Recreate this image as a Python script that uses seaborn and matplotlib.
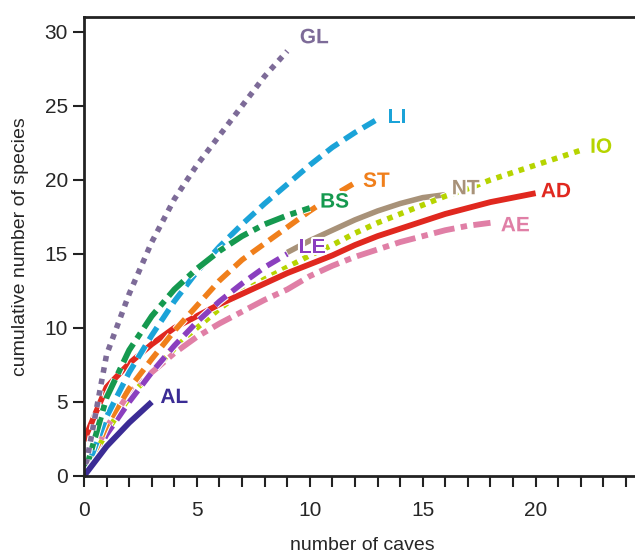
import matplotlib
matplotlib.use('Agg')
import matplotlib.pyplot as plt
import matplotlib.patheffects as pe
import seaborn as sns
import pandas as pd

# rarefaction curves (caves -> species)
gl_caves = [0, 1, 2, 3, 4, 5, 6, 7, 8, 9]
gl_species = [0, 8.2, 12.3, 15.8, 18.7, 21.0, 23.0, 25.0, 27.0, 28.7]

li_caves = [0, 1, 2, 3, 4, 5, 6, 7, 8, 9, 10, 11, 12, 13]
li_species = [0, 4.0, 7.0, 9.5, 11.8, 13.8, 15.5, 17.0, 18.4, 19.7, 21.0, 22.2, 23.2, 24.1]

bs_caves = [0, 1, 2, 3, 4, 5, 6, 7, 8, 9, 10]
bs_species = [0, 5.3, 8.5, 10.8, 12.6, 14.0, 15.2, 16.2, 17.0, 17.6, 18.1]

st_caves = [0, 1, 2, 3, 4, 5, 6, 7, 8, 9, 10, 11, 12]
st_species = [0, 3.4, 5.9, 7.9, 9.8, 11.5, 13.2, 14.6, 15.7, 16.8, 17.9, 18.9, 19.8]

le_caves = [0, 1, 2, 3, 4, 5, 6, 7, 8, 9]
le_species = [0, 2.8, 5.0, 7.0, 8.8, 10.4, 11.8, 13.0, 14.1, 15.0]

nt_caves = [9, 10, 11, 12, 13, 14, 15, 16]
nt_species = [15.1, 15.9, 16.6, 17.3, 17.9, 18.4, 18.8, 19.0]

io_caves = [0, 1, 2, 3, 4, 5, 6, 7, 8, 9, 10, 11, 12, 13, 14, 15, 16, 17, 18, 19, 20, 21, 22]
io_species = [0, 3.0, 5.3, 7.0, 8.6, 10.0, 11.3, 12.4, 13.3, 14.1, 14.9, 15.6, 16.4, 17.1,
              17.7, 18.3, 18.9, 19.4, 20.0, 20.5, 21.0, 21.5, 22.0]

ad_caves = [0, 1, 2, 3, 4, 5, 6, 7, 8, 9, 10, 11, 12, 13, 14, 15, 16, 17, 18, 19, 20]
ad_species = [2.4, 6.0, 7.6, 8.9, 10.0, 10.8, 11.6, 12.3, 13.0, 13.7, 14.3, 14.9, 15.6, 16.2,
              16.7, 17.2, 17.7, 18.1, 18.5, 18.8, 19.1]

ae_caves = [0, 1, 2, 3, 4, 5, 6, 7, 8, 9, 10, 11, 12, 13, 14, 15, 16, 17, 18]
ae_species = [0, 3.3, 5.6, 7.0, 8.3, 9.4, 10.3, 11.1, 11.9, 12.6, 13.5, 14.2, 14.8, 15.3,
              15.8, 16.2, 16.6, 16.9, 17.1]

al_caves = [0, 1, 2, 3]
al_species = [0, 2.0, 3.6, 5.0]

# label text and where it sits (caves, species)
labels = ['GL', 'LI', 'IO', 'ST', 'BS', 'NT', 'AD', 'LE', 'AE', 'AL']
label_x = [10.2, 13.85, 22.9, 12.95, 11.1, 16.9, 20.9, 10.1, 19.1, 4.0]
label_y = [29.6, 24.2, 22.2, 19.9, 18.5, 19.4, 19.2, 15.4, 16.9, 5.3]

colors = {'GL': '#7d6b98', 'LI': '#1ba3d8', 'IO': '#b6d400', 'ST': '#f07f1b',
          'BS': '#15994f', 'NT': '#a89279', 'AD': '#e0281f', 'LE': '#8b3fbf',
          'AE': '#e07fa6', 'AL': '#3b2c95'}

dotted = (0, (1, 1.1))
dashed = (0, (2.6, 1.3))
dashdot = (0, (3.6, 1.1, 1.1, 1.1))

series = [
    ('NT', nt_caves, nt_species, '-', 4.0),
    ('IO', io_caves, io_species, dotted, 4.0),
    ('AE', ae_caves, ae_species, dashdot, 4.2),
    ('AD', ad_caves, ad_species, '-', 4.2),
    ('LE', le_caves, le_species, dashed, 4.0),
    ('ST', st_caves, st_species, dashed, 4.0),
    ('LI', li_caves, li_species, dashed, 4.0),
    ('BS', bs_caves, bs_species, dashdot, 4.2),
    ('GL', gl_caves, gl_species, dotted, 4.0),
    ('AL', al_caves, al_species, '-', 4.2),
]

sns.set_style('ticks')
plt.rcParams['font.family'] = ['Liberation Sans', 'DejaVu Sans']

fig = plt.figure(figsize=(6.35, 5.54), dpi=100)
ax = fig.add_axes([0.1323, 0.1408, 0.8677, 0.8285])

for name, xs, ys, ls, lw in series:
    df = pd.DataFrame({'caves': xs, 'species': ys})
    sns.lineplot(data=df, x='caves', y='species', ax=ax, color=colors[name],
                 linestyle=ls, linewidth=lw, solid_capstyle='butt', dash_capstyle='butt',
                 path_effects=[pe.Stroke(linewidth=lw + 1.5, foreground='white'), pe.Normal()])

for lab, lx, ly in zip(labels, label_x, label_y):
    ax.text(lx, ly, lab, color=colors[lab], fontsize=15, fontweight='bold',
            ha='center', va='center',
            path_effects=[pe.withStroke(linewidth=3, foreground='white')])

ax.set_xlim(0, 24.4)
ax.set_ylim(0, 31)
ax.set_xticks(range(0, 25, 5))
ax.set_xticks(range(0, 25), minor=True)
ax.set_yticks(range(0, 31, 5))
ax.tick_params(axis='both', which='both', direction='out', length=8, width=1.5,
               labelsize=15, color='#222222')
ax.tick_params(axis='x', which='major', pad=10)
ax.spines['right'].set_visible(False)
for s in ['left', 'bottom', 'top']:
    ax.spines[s].set_linewidth(2)
    ax.spines[s].set_color('#222222')
ax.set_xlabel('number of caves', fontsize=14)
ax.set_ylabel('cumulative number of species', fontsize=14)
ax.xaxis.set_label_coords(0.505, -0.132)
ax.yaxis.set_label_coords(-0.10, 0.5)

fig.savefig('out.png', dpi=100)
